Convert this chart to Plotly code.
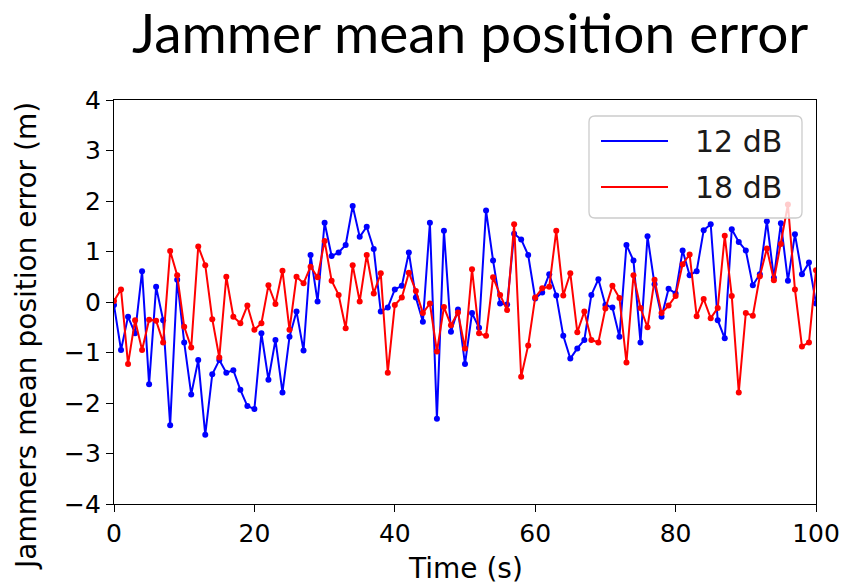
import plotly.graph_objects as go

# ---------------- data ----------------
time_s = list(range(0, 101))

err_12db = [
    -0.06, -0.95, -0.29, -0.62, 0.61, -1.63, 0.30, -0.36, -2.44, 0.44,
    -0.80, -1.83, -1.15, -2.63, -1.43, -1.15, -1.40, -1.35, -1.74, -2.06,
    -2.12, -0.62, -1.54, -0.75, -1.79, -0.69, -0.19, -0.96, 0.93, 0.01,
    1.57, 0.91, 0.98, 1.13, 1.90, 1.29, 1.49, 1.05, -0.19, -0.11,
    0.25, 0.32, 0.98, 0.09, -0.39, 1.57, -2.31, 1.41, -0.59, -0.15,
    -1.23, -0.22, -0.51, 1.81, 0.82, -0.03, -0.05, 1.35, 1.24, 0.93,
    0.07, 0.19, 0.55, 0.13, -0.67, -1.12, -0.92, -0.75, 0.14, 0.45,
    -0.06, -0.11, -0.69, 1.13, 0.82, -0.80, 1.30, 0.35, -0.29, 0.26,
    0.17, 1.02, 0.53, 0.61, 1.42, 1.54, -0.36, -0.72, 1.44, 1.19,
    1.02, 0.33, 0.55, 1.60, 0.48, 1.56, 0.42, 1.34, 0.55, 0.78,
    -0.03,
]

err_18db = [
    0.02, 0.25, -1.23, -0.36, -0.95, -0.35, -0.37, -0.80, 1.01, 0.53,
    -0.49, -0.90, 1.10, 0.73, -0.34, -1.10, 0.50, -0.29, -0.42, -0.07,
    -0.55, -0.42, 0.33, -0.04, 0.62, -0.55, 0.50, 0.37, 0.70, 0.49,
    1.21, 0.42, 0.14, -0.52, 0.73, 0.01, 0.93, 0.17, 0.57, -1.40,
    -0.06, 0.09, 0.58, 0.22, -0.22, -0.03, -0.98, -0.10, -0.46, -0.21,
    -0.92, 0.65, -0.62, -0.67, 0.49, 0.14, -0.16, 1.54, -1.48, -0.86,
    0.09, 0.27, 0.30, 1.41, 0.13, 0.57, -0.60, -0.19, -0.75, -0.80,
    -0.13, 0.32, 0.08, -1.20, 0.53, -0.12, -0.50, 0.44, -0.22, -0.07,
    0.12, 0.75, 0.94, -0.28, 0.06, -0.32, -0.12, 1.31, 0.12, -1.79,
    -0.22, -0.27, 0.51, 1.06, 0.43, 1.15, 1.93, 0.25, -0.88, -0.80,
    0.63,
]

series_names = ["12 dB", "18 dB"]
series_colors = ["#0000ff", "#ff0000"]
x_ticks = [0, 20, 40, 60, 80, 100]
y_ticks = [-4, -3, -2, -1, 0, 1, 2, 3, 4]

title_text = "Jammer mean position error"
x_title = "Time (s)"
y_title = "Jammers mean position error (m)"

# ---------------- layout geometry ----------------
W, H = 848, 588
L, R, T, B = 114, 32, 100, 84
PW, PH = W - L - R, H - T - B


def px_to_paper_x(px):
    return (px - L) / PW


def py_to_paper_y(py):
    return (H - B - py) / PH


fig = go.Figure()
for vals, name, col in zip([err_12db, err_18db], series_names, series_colors):
    fig.add_trace(go.Scatter(
        x=time_s, y=vals, name=name, mode="lines+markers",
        line=dict(color=col, width=2),
        marker=dict(color=col, size=6),
        showlegend=False,
    ))

tick_font = dict(family="DejaVu Sans", size=25, color="black")
axis_common = dict(
    showline=True, mirror=True, linecolor="black", linewidth=1.3,
    ticks="outside", ticklen=7, tickwidth=1.3, tickcolor="black",
    showgrid=False, zeroline=False, tickfont=tick_font, automargin=False,
)

fig.update_layout(
    width=W, height=H,
    margin=dict(l=L, r=R, t=T, b=B, autoexpand=False),
    paper_bgcolor="white", plot_bgcolor="white",
    xaxis=dict(range=[0, 100], tickvals=x_ticks, **axis_common),
    yaxis=dict(range=[-4, 4], tickvals=y_ticks, **axis_common),
    showlegend=False,
)

# title
fig.add_annotation(
    text=title_text, xref="paper", yref="paper",
    x=px_to_paper_x(470), y=py_to_paper_y(32), xanchor="center", yanchor="middle",
    showarrow=False, font=dict(family="Lato", size=55, color="black"),
)

# x-axis title
fig.add_annotation(
    text=x_title, xref="paper", yref="paper",
    x=px_to_paper_x(465), y=py_to_paper_y(568), xanchor="center", yanchor="middle",
    showarrow=False, font=dict(family="DejaVu Sans", size=28, color="black"),
)

# y-axis title
fig.add_annotation(
    text=y_title, xref="paper", yref="paper", textangle=-90,
    x=px_to_paper_x(26), y=py_to_paper_y(336), xanchor="center", yanchor="middle",
    showarrow=False, font=dict(family="DejaVu Sans", size=28, color="black"),
)

# legend (matplotlib-style box)
bx0, bx1, by0, by1, rr = 589, 802, 116, 218, 6
x0, x1 = px_to_paper_x(bx0), px_to_paper_x(bx1)
y0, y1 = py_to_paper_y(by1), py_to_paper_y(by0)
rx, ry = rr / PW, rr / PH
path = (f"M{x0+rx},{y0} L{x1-rx},{y0} Q{x1},{y0} {x1},{y0+ry} "
        f"L{x1},{y1-ry} Q{x1},{y1} {x1-rx},{y1} L{x0+rx},{y1} "
        f"Q{x0},{y1} {x0},{y1-ry} L{x0},{y0+ry} Q{x0},{y0} {x0+rx},{y0} Z")
fig.add_shape(type="path", path=path, xref="paper", yref="paper",
              fillcolor="rgba(255,255,255,0.8)", line=dict(color="#cccccc", width=1.3),
              layer="above")
for i, (name, col) in enumerate(zip(series_names, series_colors)):
    cy = 141 + i * 46
    fig.add_shape(type="line", xref="paper", yref="paper",
                  x0=px_to_paper_x(601), x1=px_to_paper_x(668),
                  y0=py_to_paper_y(cy), y1=py_to_paper_y(cy),
                  line=dict(color=col, width=2), layer="above")
    fig.add_annotation(text=name, xref="paper", yref="paper",
                       x=px_to_paper_x(693), y=py_to_paper_y(cy),
                       xanchor="left", yanchor="middle", showarrow=False,
                       font=dict(family="DejaVu Sans", size=30, color="#1a1a1a"))

fig.write_html(
    "out.html",
    config={"displayModeBar": False},
    post_script="document.body.style.margin='0';document.body.style.padding='0';"
                "document.body.style.overflow='hidden';",
)
